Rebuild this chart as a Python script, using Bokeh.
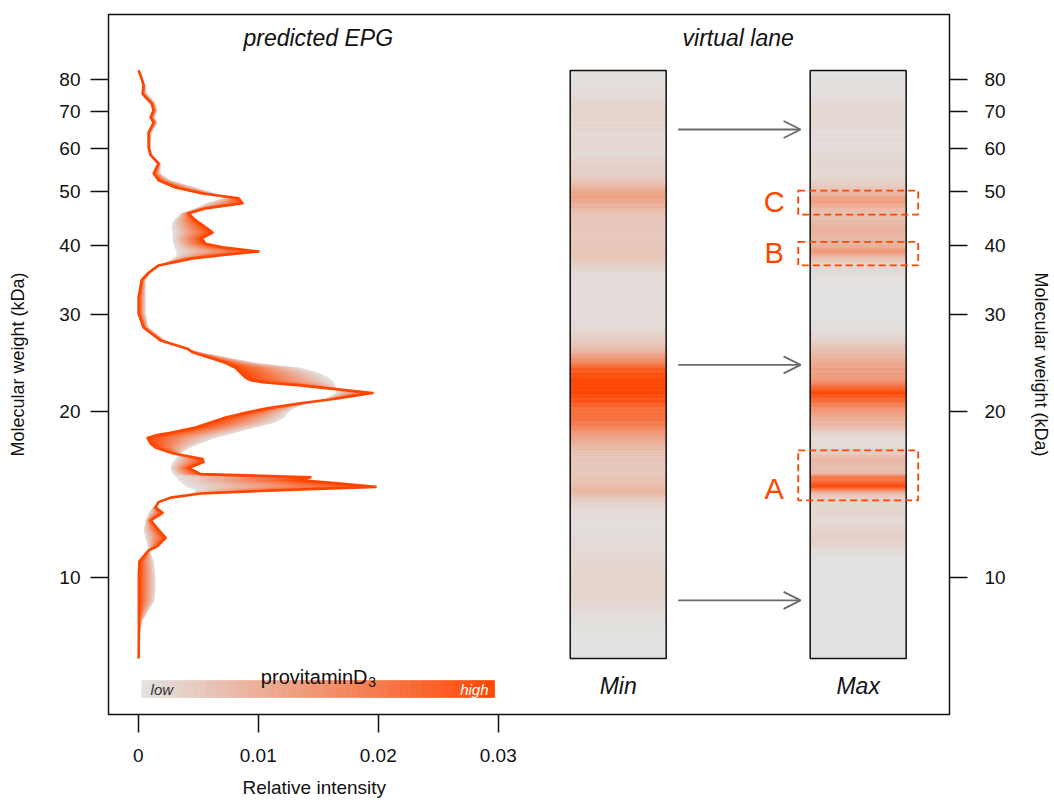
import numpy as np
from bokeh.plotting import figure
from bokeh.models import (FixedTicker, LogAxis, PrintfTickFormatter, CustomJSTickFormatter,
                          Label, Arrow, OpenHead, Title)
from bokeh.embed import file_html
from bokeh.resources import INLINE
from bokeh.core.properties import value

# ---------------- data ----------------
mw = [83.05, 80.3, 78.0, 75.4, 74.2, 72.4, 70.3, 68.3, 66.8, 64.1,
      60.2, 58.3, 56.3, 54.0, 52.5, 50.95, 49.7, 48.7, 47.7, 46.7,
      45.7, 44.4, 43.3, 42.2, 41.2, 40.3, 39.7, 39.0, 38.4, 37.9,
      36.8, 35.7, 34.6, 32.2, 30.1, 28.4,
      26.9, 26.0, 25.6, 24.5, 24.0, 23.5, 23.05, 22.8, 22.6, 22.3, 22.0, 21.6,
      21.1, 20.7, 20.25, 19.8, 19.5, 19.1, 18.7, 18.3, 18.1, 17.9, 17.5, 17.2, 16.8, 16.4, 16.2, 15.8,
      15.4, 15.2, 15.0, 14.8, 14.6, 14.4, 14.2, 13.96,
      13.7, 13.4, 13.1, 12.7, 12.2, 11.8, 11.4, 11.2, 10.7,
      10.1, 9.47, 9.08, 8.71, 8.36, 7.85, 7.13]

intensity_high = [0.00003, 0.00028, 0.00044, 0.00036, 0.00061, 0.00111, 0.00128, 0.00103, 0.00128, 0.00086,
                  0.00086, 0.00103, 0.00169, 0.00128, 0.00169, 0.00311, 0.00536, 0.00836, 0.00869, 0.00561,
                  0.00419, 0.00478, 0.00553, 0.00619, 0.00528, 0.00561, 0.00703, 0.01003, 0.00690, 0.00453,
                  0.00169, 0.00086, 0.00028, 0.00003, 0.00003, 0.00044,
                  0.00186, 0.00411, 0.00453, 0.00728, 0.00811, 0.00853, 0.00894, 0.00936, 0.01036, 0.01353, 0.01603, 0.01953,
                  0.01644, 0.01353, 0.01061, 0.00853, 0.00728, 0.00603, 0.00478, 0.00269, 0.00144, 0.00078, 0.00103, 0.00144, 0.00286, 0.00536, 0.00544, 0.00419,
                  0.00519, 0.01436, 0.01353, 0.01686, 0.01978, 0.01186, 0.00519, 0.00269,
                  0.00169, 0.00144, 0.00203, 0.00103, 0.00169, 0.00228, 0.00161, 0.00086, 0.00010,
                  0.00005, 0.00005, 0.00005, 0.00005, 0.00005, 0.00005, 0.00003]

intensity_low = [0.00010, 0.00036, 0.00061, 0.00069, 0.00103, 0.00144, 0.00161, 0.00136, 0.00161, 0.00111,
                 0.00103, 0.00119, 0.00186, 0.00186, 0.00269, 0.00478, 0.00644, 0.00703, 0.00561, 0.00478,
                 0.00353, 0.00294, 0.00278, 0.00286, 0.00286, 0.00294, 0.00303, 0.00319, 0.00319, 0.00294,
                 0.00186, 0.00103, 0.00061, 0.00061, 0.00061, 0.00086,
                 0.00228, 0.00394, 0.00519, 0.00978, 0.01353, 0.01503, 0.01586, 0.01611, 0.01628, 0.01644, 0.01653, 0.01644,
                 0.01561, 0.01419, 0.01294, 0.01236, 0.01219, 0.01144, 0.00978, 0.00811, 0.00728, 0.00644, 0.00519, 0.00436, 0.00353, 0.00311, 0.00286, 0.00269,
                 0.00286, 0.00319, 0.00336, 0.00369, 0.00403, 0.00478, 0.00453, 0.00311,
                 0.00186, 0.00119, 0.00086, 0.00061, 0.00044, 0.00061, 0.00078, 0.00094, 0.00128,
                 0.00144, 0.00144, 0.00136, 0.00086, 0.00036, 0.00010, 0.00003]

mw_ticks = [10, 20, 30, 40, 50, 60, 70, 80]
x_ticks = [0, 0.01, 0.02, 0.03]
band_labels = ["C", "B", "A"]
band_top = [50.3, 40.6, 17.0]
band_bottom = [45.5, 36.8, 13.8]
arrow_mw = [64.9, 24.3, 9.09]
lane_names = ["Min", "Max"]

# ---------------- styling ----------------
FONT = "Liberation Sans"
GRAY = np.array([226, 226, 226])
ORANGE = np.array([255, 69, 0])
ORANGE_HEX = "#ff4500"


def blend(t):
    t = min(max(float(t), 0.0), 1.0)
    c = GRAY * (1 - t) + ORANGE * t
    return "#%02x%02x%02x" % tuple(int(round(v)) for v in c)


p = figure(width=1054, height=807, x_range=(-0.00248, 0.06761), y_range=(5.645, 104.9),
           y_axis_type="log", output_backend="svg", toolbar_location=None,
           min_border_left=108, min_border_right=105, min_border_top=14, min_border_bottom=93)
p.grid.visible = False
p.outline_line_color = "#111111"
p.outline_line_width = 1.5
p.background_fill_color = "white"

y = np.array(mw)
hi = np.array(intensity_high)
lo = np.array(intensity_low)

# gradient band between low and high provitamin D3 curves
N = 32
for k in range(N):
    xk = lo + (hi - lo) * k / N
    p.harea(y=y, x1=xk, x2=hi, fill_color=blend((k + 0.5) / N), fill_alpha=1.0)
p.line(hi, y, line_color=ORANGE_HEX, line_width=2.6, line_join="round")

# virtual lanes
logy = np.log10(y)


def lane(vals, x0, x1):
    v = np.array(vals)
    t = v / v.max()
    tops, bots, cols = [], [], []
    S = 4
    for i in range(len(y) - 1):
        for s in range(S):
            a, b = s / S, (s + 1) / S
            tops.append(10 ** (logy[i] + (logy[i + 1] - logy[i]) * a))
            bots.append(10 ** (logy[i] + (logy[i + 1] - logy[i]) * b))
            cols.append(blend(t[i] + (t[i + 1] - t[i]) * (a + b) / 2))
    p.quad(left=x0, right=x1, top=tops, bottom=bots, fill_color=cols, line_color=cols, line_width=0.6)
    p.quad(left=[x0], right=[x1], top=[y[0]], bottom=[y[-1]], fill_alpha=0,
           line_color="#111111", line_width=1.5)


lane(intensity_low, 0.036, 0.044)
lane(intensity_high, 0.056, 0.064)

for lbl, xc in zip(lane_names, [0.040, 0.060]):
    p.add_layout(Label(x=xc, y=6.37, text=lbl, text_align="center", text_baseline="middle",
                       text_font=FONT, text_font_size="23px", text_font_style="italic",
                       text_color="#111111"))

# arrows
for am in arrow_mw:
    p.add_layout(Arrow(x_start=0.045, y_start=am, x_end=0.0552, y_end=am,
                       line_color="#6a6a6a", line_width=1.8,
                       end=OpenHead(size=17, line_color="#6a6a6a", line_width=1.8)))

# dashed band boxes and letters
p.quad(left=0.055, right=0.065, top=band_top, bottom=band_bottom, fill_alpha=0,
       line_color=ORANGE_HEX, line_width=1.8, line_dash="7 4")
p.text(x=[0.053] * 3, y=[47.9, 38.7, 14.5], text=band_labels, text_color=ORANGE_HEX,
       text_font=value(FONT), text_font_size="29px", text_align="center", text_baseline="middle")

# panel titles
p.add_layout(Label(x=0.015, y=94.9, text="predicted EPG", text_align="center", text_baseline="middle",
                   text_font=FONT, text_font_size="23px", text_font_style="italic", text_color="#111111"))
p.add_layout(Label(x=0.050, y=94.9, text="virtual lane", text_align="center", text_baseline="middle",
                   text_font=FONT, text_font_size="23px", text_font_style="italic", text_color="#111111"))

# colour legend
M = 160
edges = np.linspace(0.0003, 0.0297, M + 1)
cb_cols = [blend((i + 0.5) / M) for i in range(M)]
p.quad(left=edges[:-1], right=edges[1:], top=6.505, bottom=6.06, fill_color=cb_cols,
       line_color=cb_cols, line_width=0.6)
p.add_layout(Label(x=0.01911, y=6.59, text="provitaminD", text_align="right", text_baseline="alphabetic",
                   text_font=FONT, text_font_size="20px", text_color="#111111"))
p.add_layout(Label(x=0.01916, y=6.476, text="3", text_align="left", text_baseline="alphabetic",
                   text_font=FONT, text_font_size="14px", text_color="#111111"))
p.add_layout(Label(x=0.00103, y=6.265, text="low", text_align="left", text_baseline="middle",
                   text_font=FONT, text_font_size="15px", text_font_style="italic", text_color="#333333"))
p.add_layout(Label(x=0.02919, y=6.265, text="high", text_align="right", text_baseline="middle",
                   text_font=FONT, text_font_size="15px", text_font_style="italic", text_color="white"))


# axes
def style_axis(ax):
    ax.major_tick_out = 18
    ax.major_tick_in = 0
    ax.minor_tick_line_color = None
    ax.major_tick_line_width = 1.5
    ax.major_tick_line_color = "#111111"
    ax.axis_line_color = None
    ax.major_label_text_font = FONT
    ax.major_label_text_font_size = "19px"
    ax.major_label_text_color = "#111111"
    ax.axis_label_text_font = FONT
    ax.axis_label_text_font_size = "18px"
    ax.axis_label_text_font_style = "normal"
    ax.axis_label_text_color = "#111111"


xa = p.xaxis[0]
style_axis(xa)
xa.ticker = FixedTicker(ticks=x_ticks)
xa.bounds = (0, 0.03)
xa.formatter = CustomJSTickFormatter(code="return tick.toString();")
xa.major_label_standoff = 16

p.add_layout(Title(text="Relative intensity", align="left", offset=134, standoff=20,
                   text_font=FONT, text_font_size="19px", text_font_style="normal",
                   text_color="#111111"), "below")

ya = p.yaxis[0]
style_axis(ya)
ya.ticker = FixedTicker(ticks=mw_ticks)
ya.formatter = PrintfTickFormatter(format="%d")
ya.major_label_standoff = 10
ya.axis_label = "Molecular weight (kDa)"
ya.axis_label_standoff = 28

ra = LogAxis(ticker=FixedTicker(ticks=mw_ticks), formatter=PrintfTickFormatter(format="%d"),
             axis_label="Molecular weight (kDa)")
style_axis(ra)
ra.major_label_standoff = 17
ra.axis_label_standoff = 22
p.add_layout(ra, "right")

open("out.html", "w").write(file_html(p, INLINE))
